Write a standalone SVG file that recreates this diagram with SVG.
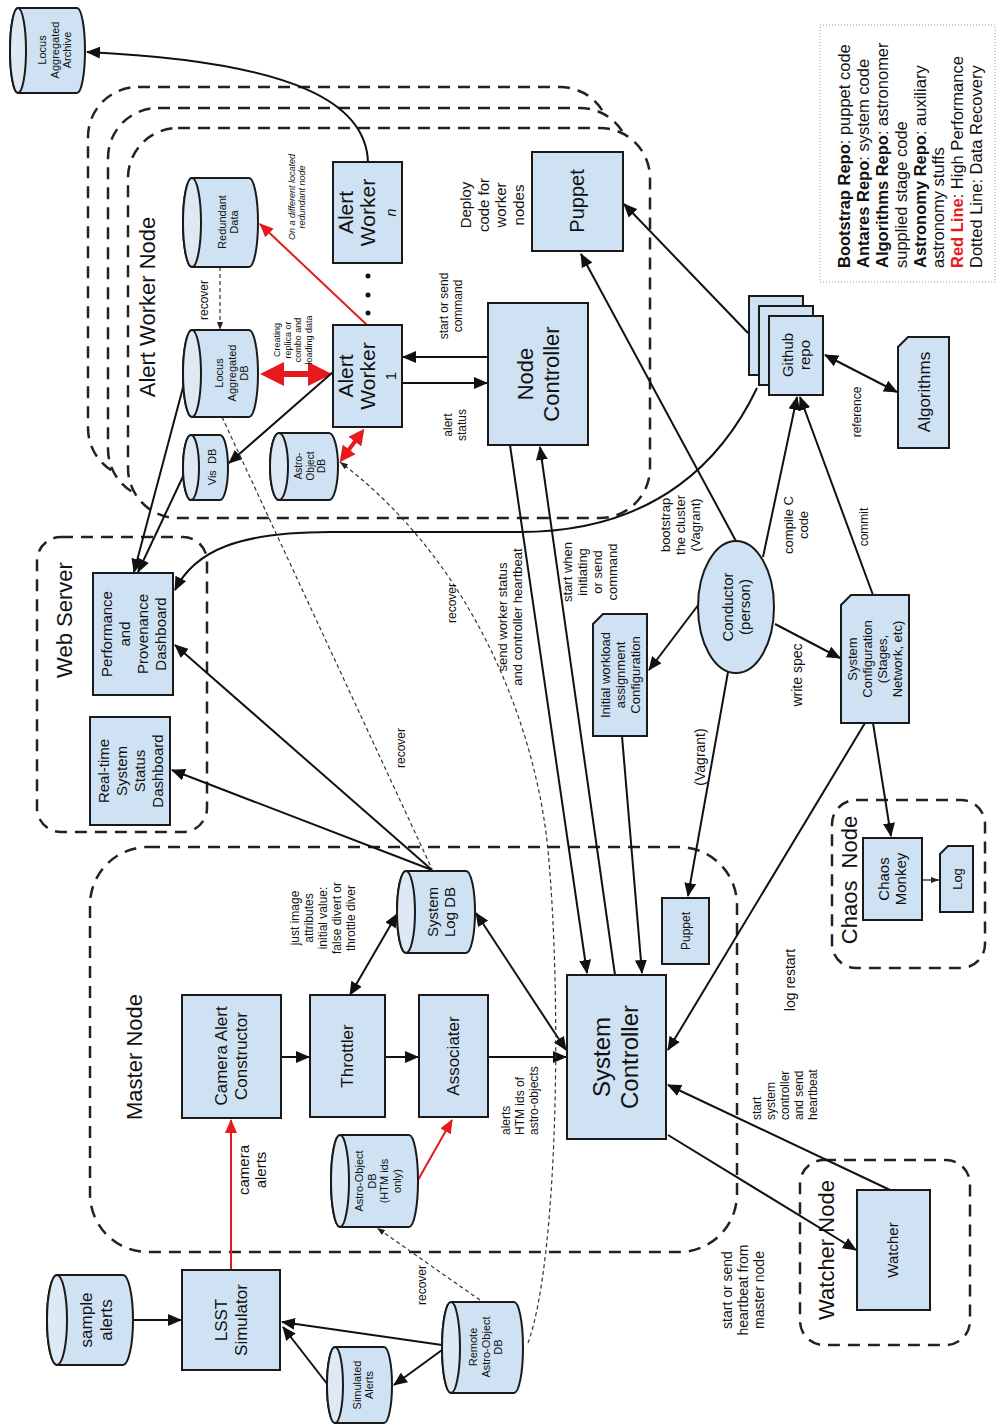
<svg xmlns="http://www.w3.org/2000/svg" width="997" height="1427" viewBox="0 0 997 1427">
<style>
text{font-family:"Liberation Sans",Arial,sans-serif;fill:#111;text-anchor:middle}
.b{fill:#cfe2f3;stroke:#1a1a1a;stroke-width:2}
.cap{fill:#dde9f5;stroke:#1a1a1a;stroke-width:2}
.grp{fill:#fff;stroke:#222;stroke-width:2.5;stroke-dasharray:12 8}
.ln{fill:none;stroke:#111;stroke-width:2}
.rd{fill:none;stroke:#e8191c;stroke-width:2}
.dsh{fill:none;stroke:#333;stroke-width:1.2;stroke-dasharray:4 3}
.leg{fill:#fff;stroke:#999;stroke-width:1;stroke-dasharray:1 2}
.st{text-anchor:start}
</style>
<defs>
<marker id="a" viewBox="0 0 14 12" refX="13" refY="6" markerWidth="14" markerHeight="12" markerUnits="userSpaceOnUse" orient="auto-start-reverse"><path d="M0,0 L14,6 L0,12 z" fill="#111"/></marker>
<marker id="as" viewBox="0 0 8 6" refX="8" refY="3" markerWidth="8" markerHeight="6" markerUnits="userSpaceOnUse" orient="auto-start-reverse"><path d="M0,0 L8,3 L0,6 z" fill="#222"/></marker>
<marker id="ar" viewBox="0 0 14 12" refX="13" refY="6" markerWidth="14" markerHeight="12" markerUnits="userSpaceOnUse" orient="auto-start-reverse"><path d="M0,0 L14,6 L0,12 z" fill="#e8191c"/></marker>
<marker id="arb" viewBox="0 0 24 24" refX="10" refY="12" markerWidth="24" markerHeight="24" markerUnits="userSpaceOnUse" orient="auto-start-reverse"><path d="M0,0 L24,12 L0,24 z" fill="#e8191c"/></marker>
<marker id="arm" viewBox="0 0 16 16" refX="7" refY="8" markerWidth="16" markerHeight="16" markerUnits="userSpaceOnUse" orient="auto-start-reverse"><path d="M0,0 L16,8 L0,16 z" fill="#e8191c"/></marker>
</defs>

<!-- containers -->
<g id="alert-worker-node-group">
<rect class="grp" x="88" y="87" width="522" height="391" rx="50"/>
<rect class="grp" x="108" y="108" width="522" height="391" rx="50"/>
<rect class="grp" x="128" y="128" width="522" height="390" rx="50"/>
<text transform="translate(147,307) rotate(-90)" font-size="22" y="8">Alert Worker Node</text>
</g>
<g id="web-server-group">
<rect class="grp" x="37" y="537" width="170" height="295" rx="24"/>
<text transform="translate(64,620) rotate(-90)" font-size="22" y="8">Web Server</text>
</g>
<g id="master-node-group">
<rect class="grp" x="90" y="847" width="647" height="405" rx="58"/>
<text transform="translate(134,1057) rotate(-90)" font-size="22" y="8">Master Node</text>
</g>
<g id="chaos-node-group">
<rect class="grp" x="832" y="800" width="153" height="168" rx="24"/>
<text transform="translate(849,880) rotate(-90)" font-size="22" y="8" xml:space="preserve">Chaos  Node</text>
</g>
<g id="watcher-node-group">
<rect class="grp" x="800" y="1160" width="170" height="185" rx="24"/>
<text transform="translate(826,1250) rotate(-90)" font-size="22" y="8">Watcher Node</text>
</g>
<g id="legend">
<rect class="leg" x="820" y="25" width="175" height="257"/>
<text class="st" transform="translate(850,268) rotate(-90)" font-size="16.5"><tspan font-weight="bold">Bootstrap Repo</tspan>: puppet code</text>
<text class="st" transform="translate(869,268) rotate(-90)" font-size="16.5"><tspan font-weight="bold">Antares Repo</tspan>: system code</text>
<text class="st" transform="translate(888,268) rotate(-90)" font-size="16.5"><tspan font-weight="bold">Algorithms Repo</tspan>: astronomer</text>
<text class="st" transform="translate(907,268) rotate(-90)" font-size="16.5">supplied stage code</text>
<text class="st" transform="translate(926,268) rotate(-90)" font-size="16.5"><tspan font-weight="bold">Astronomy Repo</tspan>: auxiliary</text>
<text class="st" transform="translate(944,268) rotate(-90)" font-size="16.5">astronomy stuffs</text>
<text class="st" transform="translate(963,268) rotate(-90)" font-size="16.5"><tspan font-weight="bold" fill="#e8191c">Red Line</tspan>: High Performance</text>
<text class="st" transform="translate(982,268) rotate(-90)" font-size="16.5">Dotted Line: Data Recovery</text>
</g>

<!-- connectors -->
<g id="connectors">
<path class="ln" d="M368,162 C366,105 300,62 87,52" marker-end="url(#a)"/>
<path class="rd" d="M367,325 L260,224" marker-end="url(#ar)"/>
<path class="dsh" d="M220,267 L220,330" marker-end="url(#as)"/>
<path d="M274,374 L318,374" fill="none" stroke="#e8191c" stroke-width="6" marker-start="url(#arb)" marker-end="url(#arb)"/>
<path d="M345,455 L359,436" fill="none" stroke="#e8191c" stroke-width="4" marker-start="url(#arm)" marker-end="url(#arm)"/>
<path class="ln" d="M333,372 L229,463" marker-end="url(#a)"/>
<path class="ln" d="M488,357 L403,357" marker-end="url(#a)"/>
<path class="ln" d="M402,383 L487,383" marker-end="url(#a)"/>
<path class="ln" d="M185,380 L134,572" marker-end="url(#a)"/>
<path class="ln" d="M186,470 L138,572" marker-end="url(#a)"/>
<path class="ln" d="M757,388 C725,455 660,532 520,532 L330,532 C240,532 195,550 175,590" marker-end="url(#a)"/>
<path class="ln" d="M748,333 L624,204" marker-end="url(#a)"/>
<path class="ln" d="M737,543 L581,254" marker-end="url(#a)"/>
<path class="ln" d="M763,557 L797,397" marker-end="url(#a)"/>
<path class="ln" d="M873,595 L800,397" marker-end="url(#a)"/>
<path class="ln" d="M825,355 L897,392" marker-start="url(#a)" marker-end="url(#a)"/>
<path class="ln" d="M775,624 L840,658" marker-end="url(#a)"/>
<path class="ln" d="M702,600 L649,670" marker-end="url(#a)"/>
<path class="ln" d="M728,672 L688,896" marker-end="url(#a)"/>
<path class="ln" d="M510,445 L587,973" marker-end="url(#a)"/>
<path class="ln" d="M615,975 L540,447" marker-end="url(#a)"/>
<path class="ln" d="M622,736 L642,973" marker-end="url(#a)"/>
<path class="ln" d="M865,723 L668,1050" marker-end="url(#a)"/>
<path class="ln" d="M873,723 L891,836" marker-end="url(#a)"/>
<path d="M922,880 L939,880" fill="none" stroke="#111" stroke-width="1.2" marker-end="url(#as)"/>
<path class="ln" d="M890,1190 L668,1085" marker-end="url(#a)"/>
<path class="ln" d="M668,1135 L856,1250" marker-end="url(#a)"/>
<path class="ln" d="M476,913 L566,1050" marker-start="url(#a)" marker-end="url(#a)"/>
<path class="ln" d="M488,1057 L566,1057" marker-end="url(#a)"/>
<path class="ln" d="M281,1057 L309,1057" marker-end="url(#a)"/>
<path class="ln" d="M385,1057 L418,1057" marker-end="url(#a)"/>
<path class="ln" d="M350,995 L397,914" marker-start="url(#a)" marker-end="url(#a)"/>
<path class="rd" d="M418,1180 L452,1120" marker-end="url(#ar)"/>
<path class="rd" d="M231,1270 L231,1120" marker-end="url(#ar)"/>
<path class="ln" d="M432,870 L175,645" marker-end="url(#a)"/>
<path class="ln" d="M432,870 L172,770" marker-end="url(#a)"/>
<path class="ln" d="M133,1320 L181,1320" marker-end="url(#a)"/>
<path class="ln" d="M442,1345 L282,1322" marker-end="url(#a)"/>
<path class="ln" d="M328,1385 L283,1327" marker-end="url(#a)"/>
<path class="ln" d="M442,1350 L394,1385" marker-end="url(#a)"/>
<path class="dsh" d="M222,417 L432,869"/>
<path class="dsh" d="M528,1343 C558,1260 562,1000 548,850 C535,720 470,560 340,462" marker-end="url(#as)"/>
<path class="dsh" d="M480,1300 L377,1228" marker-end="url(#as)"/>
</g>

<!-- connector labels -->
<g id="labels">
<text transform="translate(297,197) rotate(-90)" font-size="9" font-style="italic"><tspan x="0" y="-2.1">On a different located</tspan><tspan x="0" y="8.4">redundant node</tspan></text>
<text transform="translate(293,340) rotate(-90)" font-size="9"><tspan x="0" y="-12.6">Creating</tspan><tspan x="0" y="-2.1">replica or</tspan><tspan x="0" y="8.4">combo and</tspan><tspan x="0" y="18.9">loading data</tspan></text>
<text transform="translate(204,300) rotate(-90)" font-size="12" y="4.2">recover</text>
<text transform="translate(451,306) rotate(-90)" font-size="12"><tspan x="0" y="-2.8">start or send</tspan><tspan x="0" y="11.2">command</tspan></text>
<text transform="translate(455,425) rotate(-90)" font-size="12"><tspan x="0" y="-2.8">alert</tspan><tspan x="0" y="11.2">status</tspan></text>
<text transform="translate(492,205) rotate(-90)" font-size="15"><tspan x="0" y="-21">Deploy</tspan><tspan x="0" y="-3.5">code for</tspan><tspan x="0" y="14">worker</tspan><tspan x="0" y="31.5">nodes</tspan></text>
<text transform="translate(680,525) rotate(-90)" font-size="13"><tspan x="0" y="-10.45">bootstrap</tspan><tspan x="0" y="4.55">the cluster</tspan><tspan x="0" y="19.55">(Vagrant)</tspan></text>
<text transform="translate(796,525) rotate(-90)" font-size="13"><tspan x="0" y="-2.95">compile C</tspan><tspan x="0" y="12.05">code</tspan></text>
<text transform="translate(864,527) rotate(-90)" font-size="12" y="4.2">commit</text>
<text transform="translate(857,412) rotate(-90)" font-size="12" y="4.2">reference</text>
<text transform="translate(797,675) rotate(-90)" font-size="14" y="4.9">write spec</text>
<text transform="translate(700,757) rotate(-90)" font-size="14" y="4.9">(Vagrant)</text>
<text transform="translate(510,617) rotate(-90)" font-size="13"><tspan x="0" y="-2.95">send worker status</tspan><tspan x="0" y="12.05">and controller heartbeat</tspan></text>
<text transform="translate(590,572) rotate(-90)" font-size="13"><tspan x="0" y="-17.95">start when</tspan><tspan x="0" y="-2.95">initiating</tspan><tspan x="0" y="12.05">or send</tspan><tspan x="0" y="27.05">command</tspan></text>
<text transform="translate(452,603) rotate(-90)" font-size="12" y="4.2">recover</text>
<text transform="translate(401,748) rotate(-90)" font-size="12" y="4.2">recover</text>
<text transform="translate(323,918) rotate(-90)" font-size="12"><tspan x="0" y="-23.8">just image</tspan><tspan x="0" y="-9.8">attributes</tspan><tspan x="0" y="4.2">initial value:</tspan><tspan x="0" y="18.2">false divert or</tspan><tspan x="0" y="32.2">throttle diver</tspan></text>
<text transform="translate(252,1170) rotate(-90)" font-size="15"><tspan x="0" y="-3.5">camera</tspan><tspan x="0" y="14">alerts</tspan></text>
<text class="st" transform="translate(520,1135) rotate(-90)" font-size="12"><tspan x="0" y="-9.8">alerts</tspan><tspan x="0" y="4.2">HTM ids of</tspan><tspan x="0" y="18.2">astro-objects</tspan></text>
<text transform="translate(790,980) rotate(-90)" font-size="14" y="4.9">log restart</text>
<text class="st" transform="translate(785,1120) rotate(-90)" font-size="12"><tspan x="0" y="-23.8">start</tspan><tspan x="0" y="-9.8">system</tspan><tspan x="0" y="4.2">controller</tspan><tspan x="0" y="18.2">and send</tspan><tspan x="0" y="32.2">heartbeat</tspan></text>
<text transform="translate(743,1290) rotate(-90)" font-size="14"><tspan x="0" y="-11.1">start or send</tspan><tspan x="0" y="4.9">heartbeat from</tspan><tspan x="0" y="20.9">master node</tspan></text>
<text transform="translate(422,1285) rotate(-90)" font-size="12" y="4.2">recover</text>
</g>

<!-- nodes -->
<g id="locus-aggregated-archive">
<path class="b" d="M18,8 L77,8 A8,42.5 0 0 1 77,93 L18,93 A8,42.5 0 0 1 18,8 Z"/><ellipse class="cap" cx="18" cy="50.5" rx="8" ry="42.5"/>
<text transform="translate(55,50) rotate(-90)" font-size="11"><tspan x="0" y="-8.65">Locus</tspan><tspan x="0" y="3.85">Aggregated</tspan><tspan x="0" y="16.35">Archive</tspan></text>
</g>
<g id="redundant-data">
<path class="b" d="M192,178 L249,178 A9,44.5 0 0 1 249,267 L192,267 A9,44.5 0 0 1 192,178 Z"/><ellipse class="cap" cx="192" cy="222.5" rx="9" ry="44.5"/>
<text transform="translate(228,222) rotate(-90)" font-size="11"><tspan x="0" y="-2.4">Redundant</tspan><tspan x="0" y="10.1">Data</tspan></text>
</g>
<g id="locus-aggregated-db">
<path class="b" d="M192,330 L249,330 A9,43.5 0 0 1 249,417 L192,417 A9,43.5 0 0 1 192,330 Z"/><ellipse class="cap" cx="192" cy="373.5" rx="9" ry="43.5"/>
<text transform="translate(232,373) rotate(-90)" font-size="11"><tspan x="0" y="-8.65">Locus</tspan><tspan x="0" y="3.85">Aggregated</tspan><tspan x="0" y="16.35">DB</tspan></text>
</g>
<g id="vis-db">
<path class="b" d="M191,435 L220,435 A8,32.5 0 0 1 220,500 L191,500 A8,32.5 0 0 1 191,435 Z"/><ellipse class="cap" cx="191" cy="467.5" rx="8" ry="32.5"/>
<text transform="translate(212,467) rotate(-90)" font-size="11" y="3.85" xml:space="preserve">Vis  DB</text>
</g>
<g id="astro-object-db-worker">
<path class="b" d="M279,433 L329,433 A9,33.5 0 0 1 329,500 L279,500 A9,33.5 0 0 1 279,433 Z"/><ellipse class="cap" cx="279" cy="466.5" rx="9" ry="33.5"/>
<text transform="translate(310,466) rotate(-90)" font-size="10"><tspan x="0" y="-8">Astro-</tspan><tspan x="0" y="3.5">Object</tspan><tspan x="0" y="15">DB</tspan></text>
</g>
<g id="alert-worker-n">
<rect class="b" x="333" y="162" width="69" height="101"/>
<text transform="translate(367.5,212.5) rotate(-90)" font-size="21"><tspan x="0" y="-14.5">Alert</tspan><tspan x="0" y="7.5">Worker</tspan><tspan x="0" y="28" font-size="14" font-style="italic">n</tspan></text>
</g>
<g id="worker-dots">
<circle cx="368" cy="276" r="2.5" fill="#111"/><circle cx="368" cy="295" r="2.5" fill="#111"/><circle cx="368" cy="313" r="2.5" fill="#111"/>
</g>
<g id="alert-worker-1">
<rect class="b" x="333" y="325" width="69" height="102"/>
<text transform="translate(367.5,376) rotate(-90)" font-size="21"><tspan x="0" y="-14.5">Alert</tspan><tspan x="0" y="7.5">Worker</tspan><tspan x="0" y="28" font-size="15">1</tspan></text>
</g>
<g id="node-controller">
<rect class="b" x="488" y="303" width="100" height="142"/>
<text transform="translate(538,374) rotate(-90)" font-size="22"><tspan x="0" y="-5.3">Node</tspan><tspan x="0" y="20.7">Controller</tspan></text>
</g>
<g id="puppet-worker">
<rect class="b" x="532" y="152" width="91" height="99"/>
<text transform="translate(577,201) rotate(-90)" font-size="20" y="7">Puppet</text>
</g>
<g id="github-repo">
<rect class="b" x="749" y="296" width="54" height="79"/>
<rect class="b" x="759" y="306" width="54" height="79"/>
<rect class="b" x="769" y="316" width="54" height="79"/>
<text transform="translate(796,355) rotate(-90)" font-size="15"><tspan x="0" y="-3.5">Github</tspan><tspan x="0" y="14">repo</tspan></text>
</g>
<g id="algorithms">
<path class="b" d="M908,337 L949,337 L949,448 L898,448 L898,347 Z"/>
<text transform="translate(924,392) rotate(-90)" font-size="17" y="6">Algorithms</text>
</g>
<g id="conductor">
<ellipse class="b" cx="736" cy="607" rx="38" ry="66"/>
<text transform="translate(736,607) rotate(-90)" font-size="15"><tspan x="0" y="-3.5">Conductor</tspan><tspan x="0" y="14">(person)</tspan></text>
</g>
<g id="system-configuration">
<path class="b" d="M851,595 L909,595 L909,723 L841,723 L841,605 Z"/>
<text transform="translate(875,659) rotate(-90)" font-size="13"><tspan x="0" y="-17.95">System</tspan><tspan x="0" y="-2.95">Configuration</tspan><tspan x="0" y="12.05">(Stages,</tspan><tspan x="0" y="27.05">Network, etc)</tspan></text>
</g>
<g id="initial-workload">
<path class="b" d="M603,614 L647,614 L647,736 L593,736 L593,624 Z"/>
<text transform="translate(620,675) rotate(-90)" font-size="13"><tspan x="0" y="-10.45">Initial workload</tspan><tspan x="0" y="4.55">assignment</tspan><tspan x="0" y="19.55">Configuration</tspan></text>
</g>
<g id="performance-dashboard">
<rect class="b" x="93" y="573" width="80" height="122"/>
<text transform="translate(134,634) rotate(-90)" font-size="15"><tspan x="0" y="-21.75">Performance</tspan><tspan x="0" y="-3.75">and</tspan><tspan x="0" y="14.25">Provenance</tspan><tspan x="0" y="32.25">Dashboard</tspan></text>
</g>
<g id="realtime-dashboard">
<rect class="b" x="90" y="717" width="80" height="108"/>
<text transform="translate(131,771) rotate(-90)" font-size="15"><tspan x="0" y="-21.75">Real-time</tspan><tspan x="0" y="-3.75">System</tspan><tspan x="0" y="14.25">Status</tspan><tspan x="0" y="32.25">Dashboard</tspan></text>
</g>
<g id="camera-alert-constructor">
<rect class="b" x="182" y="995" width="99" height="123"/>
<text transform="translate(231,1056) rotate(-90)" font-size="17"><tspan x="0" y="-4">Camera Alert</tspan><tspan x="0" y="16">Constructor</tspan></text>
</g>
<g id="throttler">
<rect class="b" x="310" y="995" width="75" height="122"/>
<text transform="translate(347,1056) rotate(-90)" font-size="17" y="6">Throttler</text>
</g>
<g id="associater">
<rect class="b" x="419" y="995" width="69" height="122"/>
<text transform="translate(453,1056) rotate(-90)" font-size="17" y="6">Associater</text>
</g>
<g id="system-log-db">
<path class="b" d="M406,871 L466,871 A9,41 0 0 1 466,953 L406,953 A9,41 0 0 1 406,871 Z"/><ellipse class="cap" cx="406" cy="912" rx="9" ry="41"/>
<text transform="translate(441,912) rotate(-90)" font-size="15"><tspan x="0" y="-3.5">System</tspan><tspan x="0" y="14">Log DB</tspan></text>
</g>
<g id="astro-object-db-htm">
<path class="b" d="M340,1135 L409,1135 A9,46 0 0 1 409,1227 L340,1227 A9,46 0 0 1 340,1135 Z"/><ellipse class="cap" cx="340" cy="1181" rx="9" ry="46"/>
<text transform="translate(378,1181) rotate(-90)" font-size="11"><tspan x="0" y="-14.9">Astro-Object</tspan><tspan x="0" y="-2.4">DB</tspan><tspan x="0" y="10.1">(HTM ids</tspan><tspan x="0" y="22.6">only)</tspan></text>
</g>
<g id="system-controller">
<rect class="b" x="567" y="975" width="99" height="164"/>
<text transform="translate(616,1057) rotate(-90)" font-size="24"><tspan x="0" y="-5.6">System</tspan><tspan x="0" y="22.4">Controller</tspan></text>
</g>
<g id="puppet-master">
<rect class="b" x="662" y="898" width="47" height="66"/>
<text transform="translate(685.5,931) rotate(-90)" font-size="12" y="4.2">Puppet</text>
</g>
<g id="chaos-monkey">
<rect class="b" x="863" y="838" width="59" height="82"/>
<text transform="translate(892,879) rotate(-90)" font-size="15"><tspan x="0" y="-3.5">Chaos</tspan><tspan x="0" y="14">Monkey</tspan></text>
</g>
<g id="chaos-log">
<path class="b" d="M948,846 L973,846 L973,912 L940,912 L940,854 Z"/>
<text transform="translate(957,879) rotate(-90)" font-size="13" y="4.55">Log</text>
</g>
<g id="watcher">
<rect class="b" x="857" y="1190" width="73" height="120"/>
<text transform="translate(893,1250) rotate(-90)" font-size="15" y="5.25">Watcher</text>
</g>
<g id="sample-alerts">
<path class="b" d="M57,1275 L123,1275 A10,45 0 0 1 123,1365 L57,1365 A10,45 0 0 1 57,1275 Z"/><ellipse class="cap" cx="57" cy="1320" rx="10" ry="45"/>
<text transform="translate(96,1320) rotate(-90)" font-size="17"><tspan x="0" y="-4">sample</tspan><tspan x="0" y="16">alerts</tspan></text>
</g>
<g id="lsst-simulator">
<rect class="b" x="182" y="1270" width="98" height="100"/>
<text transform="translate(231,1320) rotate(-90)" font-size="17"><tspan x="0" y="-4">LSST</tspan><tspan x="0" y="16">Simulator</tspan></text>
</g>
<g id="simulated-alerts">
<path class="b" d="M335,1347 L384,1347 A8,38 0 0 1 384,1423 L335,1423 A8,38 0 0 1 335,1347 Z"/><ellipse class="cap" cx="335" cy="1385" rx="8" ry="38"/>
<text transform="translate(363,1385) rotate(-90)" font-size="11"><tspan x="0" y="-2.4">Simulated</tspan><tspan x="0" y="10.1">Alerts</tspan></text>
</g>
<g id="remote-astro-object-db">
<path class="b" d="M451,1302 L514,1302 A9,45.5 0 0 1 514,1393 L451,1393 A9,45.5 0 0 1 451,1302 Z"/><ellipse class="cap" cx="451" cy="1347.5" rx="9" ry="45.5"/>
<text transform="translate(486,1347) rotate(-90)" font-size="11"><tspan x="0" y="-8.65">Remote</tspan><tspan x="0" y="3.85">Astro-Object</tspan><tspan x="0" y="16.35">DB</tspan></text>
</g>
</svg>
